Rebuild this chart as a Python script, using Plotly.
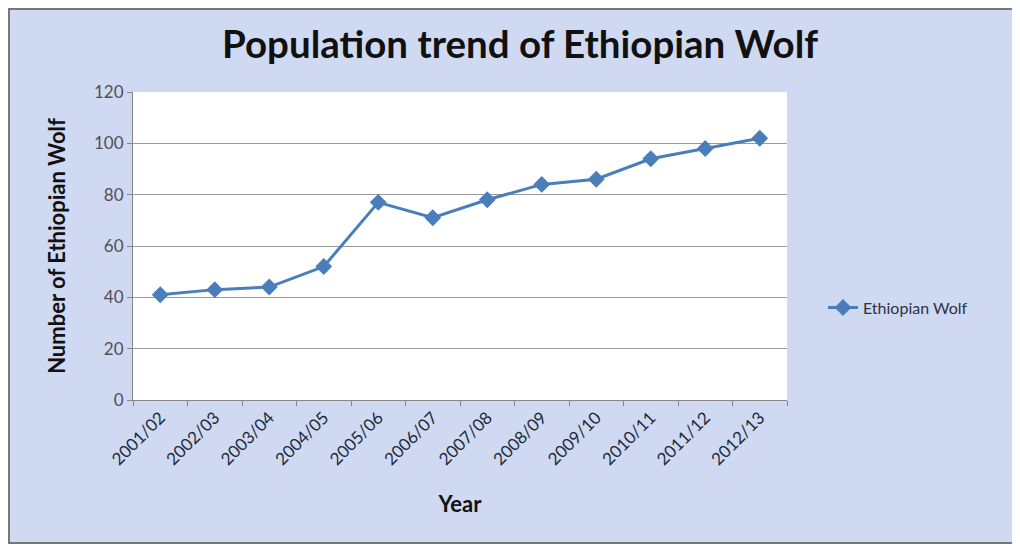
import plotly.graph_objects as go

years = ["2001/02", "2002/03", "2003/04", "2004/05", "2005/06", "2006/07",
         "2007/08", "2008/09", "2009/10", "2010/11", "2011/12", "2012/13"]
wolves = [41, 43, 44, 52, 77, 71, 78, 84, 86, 94, 98, 102]
y_ticks = [0, 20, 40, 60, 80, 100, 120]

FONT = "Lato, 'Open Sans', sans-serif"

fig = go.Figure()
fig.add_trace(go.Scatter(
    x=years, y=wolves, mode="lines+markers", name="Ethiopian Wolf",
    line=dict(color="#4a7ebb", width=3),
    marker=dict(symbol="diamond", size=13, color="#4a7ebb"),
))

W, H = 1012, 536
L, R, T, B = 125, 233, 84, 144
pw, ph = W - L - R, H - T - B

fig.update_layout(
    width=W, height=H,
    margin=dict(l=L, r=R, t=T, b=B),
    paper_bgcolor="#d0d9f2",
    plot_bgcolor="white",
    font=dict(family=FONT, color="#404040"),
    title=dict(text="<b>Population trend of Ethiopian Wolf</b>",
               x=(520 - 8 - L) / pw, xref="paper", xanchor="center",
               y=1 - 37 / H, yanchor="middle",
               font=dict(size=38.5, color="#111111", family=FONT)),
    showlegend=True,
    legend=dict(x=1.055, y=0.3, xanchor="left", yanchor="middle",
                yref="paper", bgcolor="rgba(0,0,0,0)",
                font=dict(size=16, color="#2a3344")),
    xaxis=dict(
        type="category", categoryorder="array", categoryarray=years,
        range=[-0.5, len(years) - 0.5],
        tickangle=-45, tickson="boundaries", ticks="outside", ticklen=5,
        tickcolor="#868686", showline=True, linecolor="#868686",
        showgrid=False, tickfont=dict(size=17, color="#1c2a3c"),
        title=dict(text="<b>Year</b>", font=dict(size=22, color="#111111"),
                   standoff=28),
    ),
    yaxis=dict(
        range=[0, 120], tickvals=y_ticks, ticks="outside", ticklen=5,
        tickcolor="#868686", showline=True, linecolor="#868686",
        gridcolor="#9a9a9a", gridwidth=1, zeroline=False,
        tickfont=dict(size=17, color="#505050"),
        title=dict(text="<b>Number of Ethiopian Wolf</b>",
                   font=dict(size=22, color="#111111"), standoff=22),
    ),
    shapes=[dict(type="rect", xref="paper", yref="paper",
                 x0=-(L - 1) / pw, x1=1 + (R - 1) / pw,
                 y0=-(B - 1) / ph, y1=1 + (T - 1) / ph,
                 line=dict(color="#777777", width=2), fillcolor="rgba(0,0,0,0)",
                 layer="below")],
)

fig.write_html("out.html")
